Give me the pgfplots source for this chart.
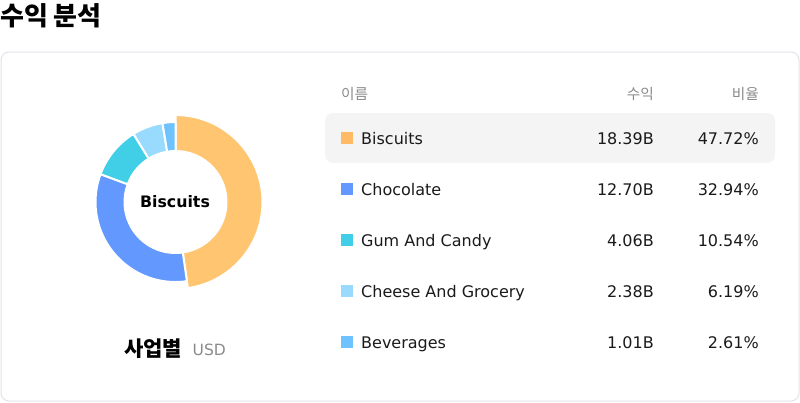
\documentclass[border=0pt]{standalone}
\usepackage{pgfplots}
\pgfplotsset{compat=1.18}
\usepackage{pgfplotstable}
\usepackage{fontspec}
\setmainfont{DejaVu Sans}
\newfontfamily\kr{Noto Sans CJK KR}
\definecolor{col0}{HTML}{FFC570}
\definecolor{col1}{HTML}{6399FF}
\definecolor{col2}{HTML}{40CFE6}
\definecolor{col3}{HTML}{99DAFF}
\definecolor{col4}{HTML}{6EC3FF}
\definecolor{sq0}{HTML}{FFBA66}
\definecolor{sq1}{HTML}{6399FF}
\definecolor{sq2}{HTML}{40CFE6}
\definecolor{sq3}{HTML}{99DAFF}
\definecolor{sq4}{HTML}{6EC3FF}
\definecolor{txt}{HTML}{1A1A1A}
\definecolor{hdr}{HTML}{8A8A8A}
\definecolor{cardb}{HTML}{E2E2EA}
\definecolor{hl}{HTML}{F4F4F4}
\pgfplotstableread[col sep=comma]{
name,revenue,share
Biscuits,18.39,47.72
Chocolate,12.70,32.94
Gum And Candy,4.06,10.54
Cheese And Grocery,2.38,6.19
Beverages,1.01,2.61
}\revtable
\begin{document}
\begin{tikzpicture}
\xdef\startang{90}
\pgfplotsforeachungrouped \i in {0,...,4}{%
  \pgfplotstablegetelem{\i}{name}\of\revtable
  \expandafter\xdef\csname nm\i\endcsname{\pgfplotsretval}%
  \pgfplotstablegetelem{\i}{revenue}\of\revtable
  \expandafter\xdef\csname rv\i\endcsname{\pgfplotsretval}%
  \pgfplotstablegetelem{\i}{share}\of\revtable
  \expandafter\xdef\csname sh\i\endcsname{\pgfplotsretval}%
  \pgfmathsetmacro\endang{\startang-3.6*\pgfplotsretval}%
  \expandafter\xdef\csname sa\i\endcsname{\startang}%
  \expandafter\xdef\csname ea\i\endcsname{\endang}%
  \expandafter\xdef\csname ro\i\endcsname{80}%
  \xdef\startang{\endang}%
}
\expandafter\xdef\csname ro0\endcsname{87}%
\begin{axis}[
  width=800pt, height=402pt, scale only axis,
  xmin=0, xmax=800, ymin=0, ymax=402, y dir=reverse,
  hide axis, clip=false,
]
% page frame (invisible)
\path (axis cs:0,0) rectangle (axis cs:800,402);
% card
\draw[cardb, line width=1pt, rounded corners=8pt] (axis cs:1,52) rectangle (axis cs:799,401);
% title
\node[anchor=base west, inner sep=0pt, text=black, font=\kr\bfseries\fontsize{26}{30}\selectfont] at (axis cs:0,25) {수익 분석};
% highlight row
\fill[hl, rounded corners=8pt] (axis cs:325,113) rectangle (axis cs:775,163);
% headers
\node[anchor=base west, inner sep=0pt, text=hdr, font=\kr\fontsize{14.7}{17}\selectfont] at (axis cs:341,99.5) {이름};
\node[anchor=base east, inner sep=0pt, text=hdr, font=\kr\fontsize{14.7}{17}\selectfont] at (axis cs:654,99.5) {수익};
\node[anchor=base east, inner sep=0pt, text=hdr, font=\kr\fontsize{14.7}{17}\selectfont] at (axis cs:759,99.5) {비율};
% donut
\pgfplotsinvokeforeach{0,...,4}{
  \fill[col#1, draw=white, line width=2pt, line join=round]
    ([shift={(\csname sa#1\endcsname:\csname ro#1\endcsname pt)}]axis cs:175.5,202)
    arc[start angle=\csname sa#1\endcsname, end angle=\csname ea#1\endcsname, radius=\csname ro#1\endcsname pt]
    -- ([shift={(\csname ea#1\endcsname:51pt)}]axis cs:175.5,202)
    arc[start angle=\csname ea#1\endcsname, end angle=\csname sa#1\endcsname, radius=51pt]
    -- cycle;
}
\node[anchor=base, inner sep=0pt, text=black, font=\bfseries\fontsize{15.8}{18}\selectfont] at (axis cs:175,207.5) {Biscuits};
% caption
\node[anchor=base west, inner sep=0pt, text=black, font=\kr\bfseries\fontsize{21}{24}\selectfont] at (axis cs:124,356) {사업별};
\node[anchor=base west, inner sep=0pt, text=hdr, font=\fontsize{15.5}{18}\selectfont] at (axis cs:192.5,355) {USD};
% table rows
\pgfplotsinvokeforeach{0,...,4}{
  \fill[sq#1] (axis cs:341,{132+51*#1}) rectangle (axis cs:353,{144+51*#1});
  \node[anchor=base west, inner sep=0pt, text=txt, font=\fontsize{16}{19}\selectfont] at (axis cs:361,{144+51*#1}) {\csname nm#1\endcsname};
  \node[anchor=base east, inner sep=0pt, text=txt, font=\fontsize{16}{19}\selectfont] at (axis cs:654,{144+51*#1}) {\csname rv#1\endcsname B};
  \node[anchor=base east, inner sep=0pt, text=txt, font=\fontsize{16}{19}\selectfont] at (axis cs:759,{144+51*#1}) {\csname sh#1\endcsname\%};
}
\end{axis}
\end{tikzpicture}
\end{document}
